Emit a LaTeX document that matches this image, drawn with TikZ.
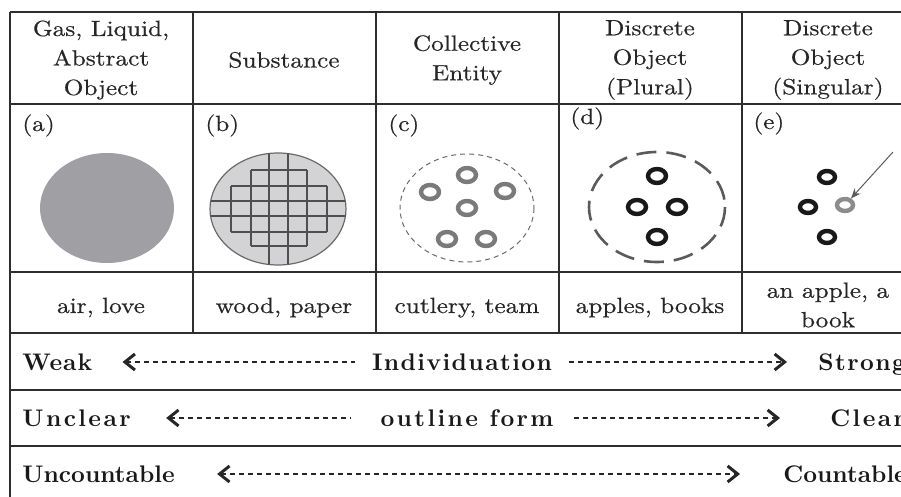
\documentclass[tikz,border=0pt]{standalone}
\usepackage{fontspec}
\usetikzlibrary{arrows.meta,shapes.geometric}

\setmainfont{lmroman10}[Extension=.otf, UprightFont=*-regular, BoldFont=*-bold, ItalicFont=*-italic, BoldItalicFont=*-bolditalic]
\newfontfamily\cellfamily{lmroman10}[Extension=.otf, UprightFont=*-regular, FakeStretch=1.15, FakeBold=0.5]
\newfontfamily\barfamily{lmroman10}[Extension=.otf, UprightFont=*-bold]

\definecolor{rulegray}{HTML}{2E2E2E}
\definecolor{blobgray}{HTML}{A0A0A4}
\definecolor{woodfill}{HTML}{D3D3D5}
\definecolor{woodedge}{HTML}{6A6A6A}
\definecolor{gridgray}{HTML}{4F4F4F}
\definecolor{collgray}{HTML}{7A7A7A}
\definecolor{arrowgray}{HTML}{5A5A5A}

\newcommand\cellfnt{\cellfamily\fontsize{11}{14.75}\selectfont}
\newcommand\barfnt{\barfamily\fontsize{12}{13}\selectfont}

\begin{document}
\begin{tikzpicture}[x=0.5pt, y=-0.5pt, >=stealth,
    rule/.style={line width=0.8pt, draw=rulegray},
    txt/.style={inner sep=0pt, text=black!85, font=\cellfnt},
    big/.style={inner sep=0pt, text=black!90, text height=9pt, text depth=0pt, font=\barfnt},
    ring/.style={ellipse, draw, line width=2.2pt, minimum width=9pt, minimum height=7pt, inner sep=0pt},
    dashline/.style={dash pattern=on 2.5pt off 2pt, line width=0.8pt, draw=black!85,
        >={Straight Barb[length=5pt, width=8pt, line width=1.5pt]}}]
\useasboundingbox (0,0) rectangle (901,497);
\clip (0,0) rectangle (901,497);

% table
\foreach \y in {12,104,272,333,390,446}
{
    \draw[rule] (10,\y)--(901,\y);
}
\draw[rule] (10,12)--(10,497);
\foreach \x in {193,376,559,742}
{
    \draw[rule] (\x,12)--(\x,333);
}

% headings
\foreach \x/\t [count=\i] in {101/{Gas, Liquid,\\Abstract\\Object}, 284/Substance, 467/{Collective\\Entity}, 650/{Discrete\\Object\\(Plural)}, 828/{Discrete\\Object\\(Singular)}}
{
    \node[txt, align=center] (head\i) at (\x,60) {\t};
}
\foreach \x/\y/\l in {22/131/a, 205/131/b, 388/131/c, 570/124/d, 753/129/e}
{
    \node[txt, anchor=base west] (lab\l) at (\x,\y) {(\l)};
}

% (a)
\fill[blobgray] (107,208) ellipse [x radius=67, y radius=55];

% (b)
\filldraw[fill=woodfill, draw=woodedge, line width=0.6pt] (278,209) ellipse [x radius=68, y radius=56];
\begin{scope}
\clip (278,209) ellipse [x radius=68, y radius=56];
\foreach \a/\b/\c in {269/140/280, 288/140/280, 251/170/246, 307/170/246, 231/186/232, 327/186/232}
{
    \draw[gridgray, line width=0.7pt] (\a,\b)--(\a,\c);
}
\foreach \a/\b/\c in {201/200/360, 216/200/360, 186/231/327, 232/231/327, 170/251/307, 246/251/307}
{
    \draw[gridgray, line width=0.7pt] (\b,\a)--(\c,\a);
}
\end{scope}

% (c)
\draw[woodedge, dash pattern=on 2.5pt off 2pt, line width=0.5pt] (467,208) ellipse [x radius=67, y radius=54];
\foreach \x/\y [count=\i] in {430/192, 467/175, 505/191, 467/208, 447/239, 486/239}
{
    \node[ring, draw=collgray] (c\i) at (\x,\y) {};
}

% (d)
\draw[arrowgray, dash pattern=on 10pt off 5pt, line width=1.3pt] (657,207) ellipse [x radius=68, y radius=55];
\foreach \x/\y [count=\i] in {657/176, 637/207, 677/207, 657/237}
{
    \node[ring, draw=black!90] (d\i) at (\x,\y) {};
}

% (e)
\foreach \x/\y [count=\i] in {827/177, 808/207, 827/237}
{
    \node[ring, draw=black!90, minimum width=8pt, minimum height=6pt] (e\i) at (\x,\y) {};
}
\node[ring, draw=black!45, minimum width=8pt, minimum height=6pt] (single) at (845,205) {};
\coordinate (tail) at (893,152);
\draw[arrowgray, line width=0.5pt, -{Stealth[length=5pt, width=4pt]}] (tail)--(single);

% examples
\foreach \x/\t [count=\i] in {101/{air, love}, 284/{wood, paper}, 467/{cutlery, team}, 650/{apples, books}}
{
    \node[txt, anchor=base] (ex\i) at (\x,313) {\t};
}
\node[txt, align=center] (ex5) at (828,305) {an apple, a\\book};

% scales
\node[big, anchor=base west, font={\barfnt\addfontfeatures{LetterSpace=4}}] (weak) at (22,371) {Weak};
\node[big, anchor=base, font={\barfnt\addfontfeatures{LetterSpace=6}}] (indiv) at (462,371) {Individuation};
\node[big, anchor=base west, font={\barfnt\addfontfeatures{LetterSpace=6}}] (strong) at (818,371) {Strong};
\draw[dashline, <-, shorten <=15pt, shorten >=8.5pt] (weak)--(indiv);
\draw[dashline, ->, shorten <=8.5pt, shorten >=15.5pt] (indiv)--(strong);

\node[big, anchor=base west, font={\barfnt\addfontfeatures{LetterSpace=10}}] (unclear) at (22,427) {Unclear};
\node[big, anchor=base, font={\barfnt\addfontfeatures{LetterSpace=10}}] (outline) at (467,427) {outline form};
\node[big, anchor=base west, font={\barfnt\addfontfeatures{LetterSpace=10}}] (clear) at (830,427) {Clear};
\draw[dashline, <-, shorten <=17.5pt, shorten >=14.5pt] (unclear)--(outline);
\draw[dashline, ->, shorten <=10pt, shorten >=25pt] (outline)--(clear);

\node[big, anchor=base west] (uncount) at (22,483) {Uncountable};
\node[big, anchor=base west] (count) at (783,483) {Countable};
\draw[dashline, <->, shorten <=21pt, shorten >=21.5pt] (uncount)--(count);

\end{tikzpicture}
\end{document}
